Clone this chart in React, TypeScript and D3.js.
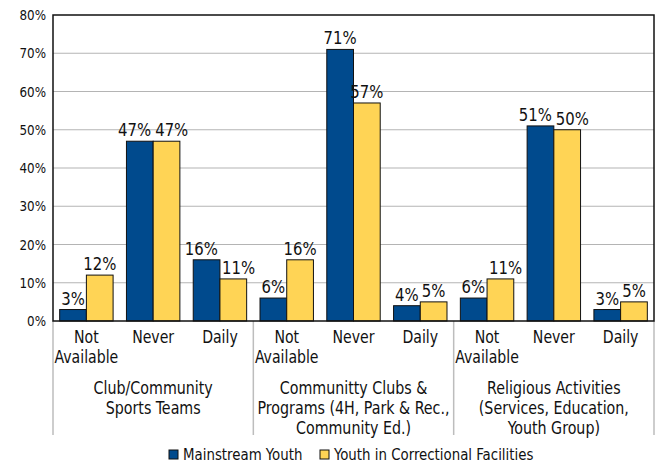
import { useRef, useEffect } from 'react';
import * as d3 from 'd3';

const groups = [
  ['Club/Community', 'Sports Teams'],
  ['Communitty Clubs &', 'Programs (4H, Park & Rec.,', 'Community Ed.)'],
  ['Religious Activities', '(Services, Education,', 'Youth Group)'],
];
const answers = ['Not Available', 'Never', 'Daily'];
const mainstream = [3, 47, 16, 6, 71, 4, 6, 51, 3];
const correctional = [12, 47, 11, 16, 57, 5, 11, 50, 5];
const seriesNames = ['Mainstream Youth', 'Youth in Correctional Facilities'];
const colors = ['#004A8D', '#FFD455'];
const yTicks = [0, 10, 20, 30, 40, 50, 60, 70, 80];

const W = 660;
const H = 468;
const margin = { top: 15, right: 6, bottom: 147, left: 53 };
const font = '"DejaVu Sans Condensed", "DejaVu Sans", sans-serif';

type Sel = d3.Selection<SVGGElement, unknown, null, undefined>;

// condensed text: draws lines at (x, y) squeezed horizontally
function label(
  parent: Sel,
  x: number,
  y: number,
  lines: string[],
  size: number,
  squeeze: number,
  anchor = 'middle',
  lineH = 20,
) {
  const t = parent
    .append('text')
    .attr('transform', `translate(${x},${y}) scale(${squeeze},1)`)
    .attr('text-anchor', anchor)
    .attr('font-family', font)
    .attr('font-size', size)
    .attr('fill', '#111');
  lines.forEach((l, k) => {
    t.append('tspan')
      .attr('x', 0)
      .attr('dy', k === 0 ? 0 : lineH)
      .text(l);
  });
  return t;
}

export default function App() {
  const svgRef = useRef<SVGSVGElement>(null);

  useEffect(() => {
    if (!svgRef.current) return;
    const svg = d3.select(svgRef.current);
    svg.selectAll('*').remove();

    const innerW = W - margin.left - margin.right;
    const innerH = H - margin.top - margin.bottom;
    const cats = d3.range(mainstream.length);

    const x = d3.scaleBand<number>().domain(cats).range([0, innerW]).paddingInner(0.2).paddingOuter(0.1);
    const step = x.step();
    const xs = d3.scaleBand<number>().domain([0, 1]).range([0, x.bandwidth()]);
    const y = d3.scaleLinear().domain([0, 80]).range([innerH, 0]);

    const g = svg.append('g').attr('transform', `translate(${margin.left},${margin.top})`) as unknown as Sel;

    // gridlines
    g.selectAll('line.grid')
      .data(yTicks.slice(1, -1))
      .join('line')
      .attr('x1', 0)
      .attr('x2', innerW)
      .attr('y1', (d) => y(d))
      .attr('y2', (d) => y(d))
      .attr('stroke', '#b4b4b4')
      .attr('stroke-width', 1.2);

    // y labels
    yTicks.forEach((d) => label(g, -7, y(d) + 5, [`${d}%`], 14, 0.95, 'end'));

    // group separators below axis
    g.selectAll('line.sep')
      .data(d3.range(groups.length + 1))
      .join('line')
      .attr('x1', (d) => d * step * 3)
      .attr('x2', (d) => d * step * 3)
      .attr('y1', innerH)
      .attr('y2', innerH + 114)
      .attr('stroke', '#bdbdbd')
      .attr('stroke-width', 1.5);

    // bars
    const series = [mainstream, correctional];
    series.forEach((vals, si) => {
      g.selectAll(`rect.s${si}`)
        .data(vals)
        .join('rect')
        .attr('x', (_, i) => (x(i) ?? 0) + (xs(si) ?? 0))
        .attr('y', (d) => y(d))
        .attr('width', xs.bandwidth())
        .attr('height', (d) => innerH - y(d))
        .attr('fill', colors[si])
        .attr('stroke', '#111')
        .attr('stroke-width', 1);
    });

    // value labels, nudged apart where a pair would collide
    const sq = 0.92;
    cats.forEach((i) => {
      const boundary = (x(i) ?? 0) + xs.bandwidth();
      const cx = [0, 1].map((si) => (x(i) ?? 0) + (xs(si) ?? 0) + xs.bandwidth() / 2);
      const vals = [mainstream[i], correctional[i]];
      const ts = vals.map((v, si) => label(g, cx[si], y(v) - 5, [`${v}%`], 18, sq));
      const w = ts.map((t) => (t.node() as SVGTextElement).getComputedTextLength() * sq);
      const close = Math.abs(y(vals[0]) - y(vals[1])) < 22;
      if (close && cx[0] + w[0] / 2 + 2 > cx[1] - w[1] / 2) {
        const c0 = Math.min(cx[0], boundary - 2 - w[0] / 2);
        const c1 = Math.max(cx[1], boundary + 2 + w[1] / 2);
        ts[0].attr('transform', `translate(${c0},${y(vals[0]) - 5}) scale(${sq},1)`);
        ts[1].attr('transform', `translate(${c1},${y(vals[1]) - 5}) scale(${sq},1)`);
      }
    });

    // frame
    g.append('rect')
      .attr('width', innerW)
      .attr('height', innerH)
      .attr('fill', 'none')
      .attr('stroke', '#111')
      .attr('stroke-width', 1.5);

    // category labels
    cats.forEach((i) => {
      const a = answers[i % 3];
      const words = a === 'Not Available' ? ['Not', 'Available'] : [a];
      label(g, (x(i) ?? 0) + x.bandwidth() / 2, innerH + 22, words, 18, 0.87);
    });

    // group labels
    groups.forEach((lines, gi) => {
      label(g, (gi * 3 + 1.5) * step, innerH + 73, lines, 18, 0.88);
    });

    // legend
    const legend = svg.append('g').attr('transform', `translate(0, ${H - 14})`) as unknown as Sel;
    const lx = [169, 320];
    seriesNames.forEach((name, i) => {
      legend
        .append('rect')
        .attr('x', lx[i])
        .attr('y', -4)
        .attr('width', 9)
        .attr('height', 9)
        .attr('fill', colors[i])
        .attr('stroke', '#111')
        .attr('stroke-width', 1);
      label(legend, lx[i] + 14, 6, [name], 16.5, 0.9, 'start');
    });
  }, []);

  return (
    <svg
      ref={svgRef}
      width={W}
      height={H}
      viewBox={`0 0 ${W} ${H}`}
      style={{ position: 'absolute', left: 0, top: 0, background: '#fff' }}
    />
  );
}
